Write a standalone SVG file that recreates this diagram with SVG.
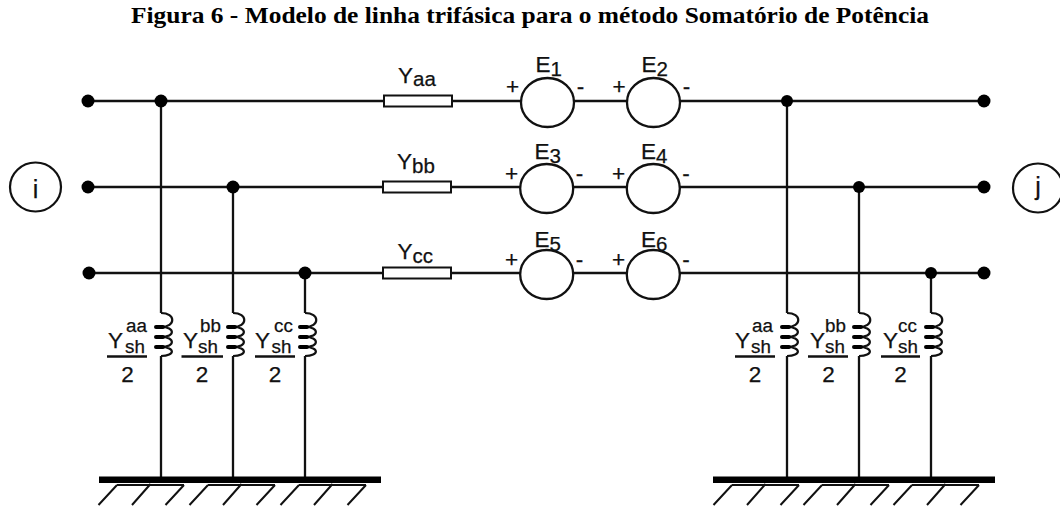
<svg xmlns="http://www.w3.org/2000/svg" width="1060" height="506" viewBox="0 0 1060 506">
<style>
.w{stroke:#111;stroke-width:2.3;fill:none}
.r{stroke:#111;stroke-width:2;fill:#fff}
.src{stroke:#111;stroke-width:2.3;fill:#fff}
.dot{fill:#000}
.coil{stroke:#111;stroke-width:2.2;fill:none}
.cd{stroke:#000;stroke-width:4;stroke-linecap:round}
.t{font-family:"Liberation Sans",Arial,sans-serif;font-size:22.5px;fill:#111;stroke:#111;stroke-width:0.25}
.s{font-size:20.5px}
.ss{font-size:18.8px}
.title{font-family:"Liberation Serif","Times New Roman",serif;font-size:23.5px;font-weight:bold;fill:#000}
.bar{fill:#000}
.h{stroke:#111;stroke-width:2;fill:none}
.fb{stroke:#111;stroke-width:2.4}
</style>
<text class="title" x="530" y="23" text-anchor="middle" textLength="798" lengthAdjust="spacingAndGlyphs">Figura 6 - Modelo de linha trifásica para o método Somatório de Potência</text>

<g id="connectors">
  <path class="w" d="M88,101 H384 M452,101 H521 M574,101 H627 M680,101 H984"/>
  <path class="w" d="M88,187 H383 M451,187 H520 M573,187 H627 M680,187 H984"/>
  <path class="w" d="M88,273 H383 M451,273 H520 M573,273 H627 M680,273 H984"/>
  <path class="w" d="M161,101 V313 M161,356 V477 M233,187 V313 M233,356 V477 M305,273 V313 M305,356 V477"/>
  <path class="w" d="M787,101 V313 M787,356 V477 M859,187 V313 M859,356 V477 M931,273 V313 M931,356 V477"/>
</g>

<g id="bus-i">
  <ellipse cx="35.5" cy="187" rx="25.5" ry="24.5" fill="#fff" stroke="#111" stroke-width="2.2"/>
  <text class="t" x="35.5" y="198" text-anchor="middle" style="font-size:25px">i</text>
</g>
<g id="bus-j">
  <ellipse cx="1038" cy="188" rx="25" ry="24.5" fill="#fff" stroke="#111" stroke-width="2.2"/>
  <text class="t" x="1038" y="195" text-anchor="middle" style="font-size:25px">j</text>
</g>

<g id="terminals">
  <circle class="dot" cx="88" cy="101" r="6.5"/>
  <circle class="dot" cx="88" cy="187" r="6.5"/>
  <circle class="dot" cx="89" cy="273" r="6.5"/>
  <circle class="dot" cx="984" cy="101" r="6.5"/>
  <circle class="dot" cx="984" cy="187" r="6.5"/>
  <circle class="dot" cx="984" cy="273" r="6.5"/>
  <circle class="dot" cx="161" cy="101" r="6.5"/>
  <circle class="dot" cx="233" cy="187" r="6.5"/>
  <circle class="dot" cx="305" cy="273" r="6.5"/>
  <circle class="dot" cx="787" cy="101" r="6"/>
  <circle class="dot" cx="859" cy="187" r="6"/>
  <circle class="dot" cx="931" cy="273" r="6"/>
</g>

<g id="Yaa">
  <rect class="r" x="384" y="95.5" width="68" height="11"/>
  <text class="t" x="398" y="82.5">Y<tspan class="s" dy="3.5">aa</tspan></text>
</g>
<g id="Ybb">
  <rect class="r" x="383" y="181.5" width="68" height="11"/>
  <text class="t" x="397" y="169">Y<tspan class="s" dy="3.5">bb</tspan></text>
</g>
<g id="Ycc">
  <rect class="r" x="383" y="267.5" width="68" height="11"/>
  <text class="t" x="397.5" y="259">Y<tspan class="s" dy="3.5">cc</tspan></text>
</g>

<g id="E1">
  <ellipse class="src" cx="547.5" cy="102.5" rx="26.5" ry="24.5"/>
  <text class="t" x="535.5" y="72">E<tspan class="s" dy="4">1</tspan></text>
  <text class="t" x="512.5" y="94" text-anchor="middle">+</text>
  <text class="t" x="580.5" y="94" text-anchor="middle">-</text>
</g>
<g id="E2">
  <ellipse class="src" cx="653.5" cy="102.5" rx="26.5" ry="24.5"/>
  <text class="t" x="641.5" y="72">E<tspan class="s" dy="4">2</tspan></text>
  <text class="t" x="619" y="94" text-anchor="middle">+</text>
  <text class="t" x="686.5" y="94" text-anchor="middle">-</text>
</g>
<g id="E3">
  <ellipse class="src" cx="546.7" cy="188.5" rx="26.5" ry="24.5"/>
  <text class="t" x="534.5" y="158.5">E<tspan class="s" dy="4">3</tspan></text>
  <text class="t" x="511.5" y="180.5" text-anchor="middle">+</text>
  <text class="t" x="579.5" y="180.5" text-anchor="middle">-</text>
</g>
<g id="E4">
  <ellipse class="src" cx="653.3" cy="188.5" rx="26.5" ry="24.5"/>
  <text class="t" x="641" y="158.5">E<tspan class="s" dy="4">4</tspan></text>
  <text class="t" x="618.5" y="180.5" text-anchor="middle">+</text>
  <text class="t" x="686" y="180.5" text-anchor="middle">-</text>
</g>
<g id="E5">
  <ellipse class="src" cx="546.7" cy="274.5" rx="26.5" ry="24.5"/>
  <text class="t" x="534.5" y="246.5">E<tspan class="s" dy="4">5</tspan></text>
  <text class="t" x="511.5" y="267" text-anchor="middle">+</text>
  <text class="t" x="579.5" y="267" text-anchor="middle">-</text>
</g>
<g id="E6">
  <ellipse class="src" cx="653.3" cy="274.5" rx="26.5" ry="24.5"/>
  <text class="t" x="641" y="246.5">E<tspan class="s" dy="4">6</tspan></text>
  <text class="t" x="618.5" y="267" text-anchor="middle">+</text>
  <text class="t" x="686" y="267" text-anchor="middle">-</text>
</g>

<defs>
  <g id="coil">
    <path class="coil" d="M0,313 C15,313 15,327 0,327 C14.5,327 14.5,337 0,337 C14.5,337 14.5,347 0,347 C14.5,347 14.5,356 0,356"/>
    <path class="cd" d="M-5,327 H2 M-5,337 H2 M-5,347 H2"/>
  </g>
</defs>

<g id="Ysh-aa-i">
  <use href="#coil" x="161"/>
  <text class="t" x="108" y="347.5">Y<tspan class="ss" x="125" y="352.5">sh</tspan><tspan class="ss" x="126" y="331.5">aa</tspan></text>
  <line class="fb" x1="107" y1="356.5" x2="147" y2="356.5"/>
  <text class="t" x="127.5" y="381.5" text-anchor="middle">2</text>
</g>
<g id="Ysh-bb-i">
  <use href="#coil" x="233"/>
  <text class="t" x="183" y="347.5">Y<tspan class="ss" x="198" y="352.5">sh</tspan><tspan class="ss" x="200" y="331.5">bb</tspan></text>
  <line class="fb" x1="181.5" y1="356.5" x2="223" y2="356.5"/>
  <text class="t" x="202" y="381.5" text-anchor="middle">2</text>
</g>
<g id="Ysh-cc-i">
  <use href="#coil" x="305"/>
  <text class="t" x="255" y="347.5">Y<tspan class="ss" x="271.5" y="352.5">sh</tspan><tspan class="ss" x="274" y="331.5">cc</tspan></text>
  <line class="fb" x1="255" y1="356.5" x2="295" y2="356.5"/>
  <text class="t" x="275" y="381.5" text-anchor="middle">2</text>
</g>
<g id="Ysh-aa-j">
  <use href="#coil" x="787"/>
  <text class="t" x="735" y="347.5">Y<tspan class="ss" x="751" y="352.5">sh</tspan><tspan class="ss" x="752" y="331.5">aa</tspan></text>
  <line class="fb" x1="735" y1="356.5" x2="775" y2="356.5"/>
  <text class="t" x="755" y="381.5" text-anchor="middle">2</text>
</g>
<g id="Ysh-bb-j">
  <use href="#coil" x="859"/>
  <text class="t" x="810" y="347.5">Y<tspan class="ss" x="825" y="352.5">sh</tspan><tspan class="ss" x="825" y="331.5">bb</tspan></text>
  <line class="fb" x1="808" y1="356.5" x2="848" y2="356.5"/>
  <text class="t" x="828.5" y="381.5" text-anchor="middle">2</text>
</g>
<g id="Ysh-cc-j">
  <use href="#coil" x="931"/>
  <text class="t" x="883" y="347.5">Y<tspan class="ss" x="898" y="352.5">sh</tspan><tspan class="ss" x="898" y="331.5">cc</tspan></text>
  <line class="fb" x1="881" y1="356.5" x2="920" y2="356.5"/>
  <text class="t" x="900.5" y="381.5" text-anchor="middle">2</text>
</g>

<g id="ground-i">
  <rect class="bar" x="99" y="476.5" width="282" height="6.5"/>
  <path class="h" d="M117,485 H184 M117,485 L98.5,505 M150.5,484 L132,505 M184,485 L165.5,505
    M208,485 H275 M208,485 L189.5,505 M241.5,484 L223,505 M275,485 L256.5,505
    M299,485 H366 M299,485 L280.5,505 M332.5,484 L314,505 M366,485 L347.5,505"/>
</g>
<g id="ground-j">
  <rect class="bar" x="713" y="476.5" width="282" height="6.5"/>
  <path class="h" d="M732,485 H799 M732,485 L713.5,505 M765.5,484 L747,505 M799,485 L780.5,505
    M822,485 H889 M822,485 L803.5,505 M855.5,484 L837,505 M889,485 L870.5,505
    M912,485 H979 M912,485 L893.5,505 M945.5,484 L927,505 M979,485 L960.5,505"/>
</g>
</svg>
